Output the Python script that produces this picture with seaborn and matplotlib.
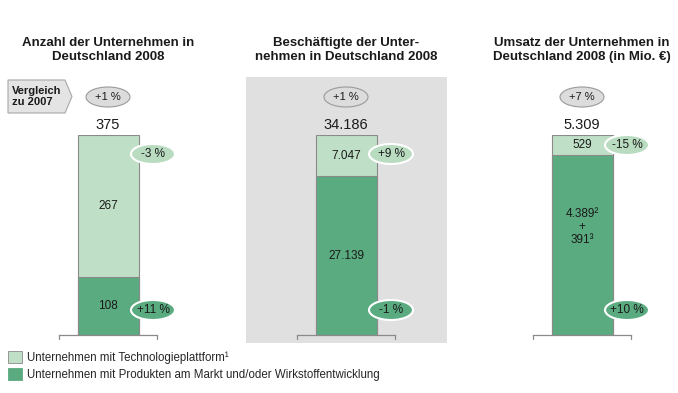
import matplotlib
matplotlib.use("Agg")
import matplotlib.pyplot as plt
import seaborn as sns
import pandas as pd
from matplotlib.patches import Ellipse, Polygon, Rectangle, Patch

# data
panel_titles = ["Anzahl der Unternehmen in\nDeutschland 2008",
                "Beschäftigte der Unter-\nnehmen in Deutschland 2008",
                "Umsatz der Unternehmen in\nDeutschland 2008 (in Mio. €)"]
tech = [267, 7047, 529]            # Technologieplattform
products = [108, 27139, 4780]      # Produkte am Markt / Wirkstoffentwicklung
products_parts = [4389, 391]       # split of the Umsatz value
total_change = ["+1 %", "+1 %", "+7 %"]
tech_change = ["-3 %", "+9 %", "-15 %"]
prod_change = ["+11 %", "-1 %", "+10 %"]
legend_labels = ["Unternehmen mit Technologieplattform¹",
                 "Unternehmen mit Produkten am Markt und/oder Wirkstoffentwicklung"]


def de(v):
    return f"{v:,}".replace(",", ".")


LIGHT = "#bfe0c6"
DARK = "#5aab80"
EDGE = "#8a8a8a"
TXT = "#1a1a1a"

sns.set_style("white")
plt.rcParams["font.family"] = ["Liberation Sans", "DejaVu Sans"]

W, H = 678, 393
fig = plt.figure(figsize=(6.78, 3.93), dpi=100)
fig.patch.set_facecolor("white")

centers = [108, 346, 582]
half = 49
bar_bottom, bar_top = 335, 135

# grey background behind the middle panel
fig.add_artist(Rectangle((246 / W, 1 - 343 / H), 201 / W, 266 / H,
                         transform=fig.transFigure, facecolor="#e0e0e0",
                         edgecolor="none", zorder=-1))

for i, c in enumerate(centers):
    tot = tech[i] + products[i]
    ax = fig.add_axes([(c - half) / W, 1 - bar_bottom / H, 2 * half / W,
                       (bar_bottom - bar_top) / H])
    ax.set_facecolor("none")
    df = pd.DataFrame({"cat": ["a"], "total": [tot], "prod": [products[i]]})
    sns.barplot(data=df, x="cat", y="total", color=LIGHT, saturation=1,
                width=61 / 98, edgecolor=EDGE, linewidth=0.8, ax=ax)
    sns.barplot(data=df, x="cat", y="prod", color=DARK, saturation=1,
                width=61 / 98, edgecolor=EDGE, linewidth=0.8, ax=ax)
    ax.set_xlim(-0.5, 0.5)
    ax.set_ylim(0, tot)
    ax.set_xlabel("")
    ax.set_ylabel("")
    ax.set_xticks([])
    ax.set_yticks([])
    for s in ["top", "left", "right"]:
        ax.spines[s].set_visible(False)
    ax.spines["bottom"].set_color(EDGE)
    ax.spines["bottom"].set_linewidth(0.9)
    d = tot * 4 / 200
    for xe in (-0.5, 0.5):
        ax.plot([xe, xe], [0, -d], color=EDGE, lw=0.9, clip_on=False)

    # labels
    ax.annotate(de(tot), (0, tot), xytext=(0, 2), textcoords="offset points",
                ha="center", va="bottom", fontsize=10.5, color=TXT)
    ax.text(0, products[i] + tech[i] / 2, de(tech[i]), ha="center",
            va="center", fontsize=8.5, color=TXT)
    if i == 2:
        ax.text(0, products[i] * 0.6,
                f"{de(products_parts[0])}²\n+\n{de(products_parts[1])}³",
                ha="center", va="center", fontsize=8.5, color=TXT,
                linespacing=1.1)
    else:
        ax.text(0, products[i] / 2, de(products[i]), ha="center",
                va="center", fontsize=8.5, color=TXT)

# overlay in pixel coordinates
ov = fig.add_axes([0, 0, 1, 1])
ov.set_xlim(0, W)
ov.set_ylim(H, 0)
ov.axis("off")
ov.set_zorder(5)

for i, c in enumerate(centers):
    ov.text(c, 50, panel_titles[i], ha="center", va="center", fontsize=9.5,
            fontweight="bold", color=TXT, linespacing=1.15)
    ov.add_patch(Ellipse((c, 97), 44, 20, facecolor="#dcdcdc",
                         edgecolor="#9a9a9a", lw=0.8))
    ov.text(c, 97, total_change[i], ha="center", va="center", fontsize=8,
            color=TXT)
    ytop = 145 if i == 2 else 154
    ov.add_patch(Ellipse((c + 45, ytop), 44, 20, facecolor="#b9dcc1",
                         edgecolor="white", lw=1.5))
    ov.text(c + 45, ytop, tech_change[i], ha="center", va="center",
            fontsize=8.5, color=TXT)
    ov.add_patch(Ellipse((c + 45, 310), 44, 20, facecolor=DARK,
                         edgecolor="white", lw=1.5))
    ov.text(c + 45, 310, prod_change[i], ha="center", va="center",
            fontsize=8.5, color=TXT)

# "Vergleich zu 2007" arrow box
ov.add_patch(Polygon([(8, 80), (65, 80), (72, 96.5), (65, 113), (8, 113)],
                     closed=True, facecolor="#e4e4e4", edgecolor="#a8a8a8",
                     lw=0.8))
ov.text(12, 96.5, "Vergleich\nzu 2007", ha="left", va="center", fontsize=8,
        fontweight="bold", color=TXT, linespacing=1.05)

handles = [Patch(facecolor=LIGHT, edgecolor=EDGE, lw=0.6),
           Patch(facecolor=DARK, edgecolor=DARK, lw=0.6)]
fig.legend(handles=handles, labels=legend_labels, loc="upper left",
           bbox_to_anchor=(8 / W, 1 - 351 / H), frameon=False, fontsize=8.3,
           handlelength=1.2, handleheight=1.25, handletextpad=0.45,
           labelspacing=0.32, borderpad=0, borderaxespad=0)

fig.savefig("out.png", dpi=100)
